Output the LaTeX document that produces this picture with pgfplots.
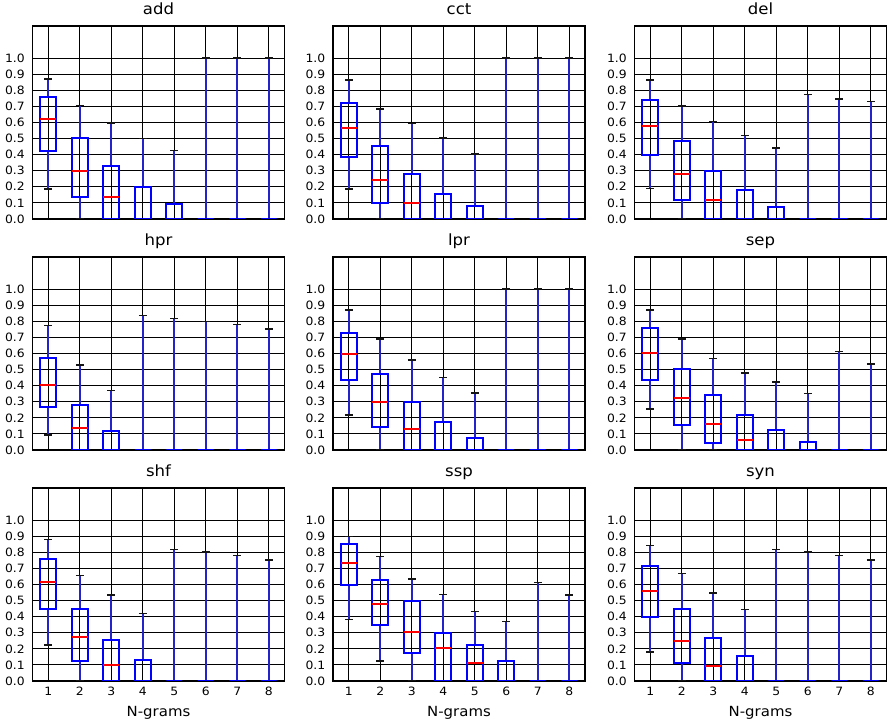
\documentclass[border=0pt]{standalone}
\usepackage{pgfplots}
\pgfplotsset{compat=1.18}
\usepgfplotslibrary{statistics}
\usepackage{fontspec}
\setmainfont{DejaVu Sans}[FakeStretch=1.07]
\newfontfamily\tickfam{DejaVu Sans}[FakeStretch=1.08]
\definecolor{boxblue}{rgb}{0,0,1}
\definecolor{wcol}{RGB}{35,35,200}
\definecolor{capc}{RGB}{20,20,20}
\pgfplotsset{
  boxplot/draw/box/.code={%
    \draw[boxblue, line width=2bp] (boxplot box cs:\pgfplotsboxplotvalue{lower quartile},0) rectangle (boxplot box cs:\pgfplotsboxplotvalue{upper quartile},1);},
  boxplot/draw/median/.code={%
    \draw[red, line width=2bp, /pgfplots/boxplot/every median/.try] (boxplot box cs:\pgfplotsboxplotvalue{median},0) -- (boxplot box cs:\pgfplotsboxplotvalue{median},1);},
  boxplot/draw/lower whisker/.code={%
    \draw[wcol, line width=1.7bp] (boxplot box cs:\pgfplotsboxplotvalue{lower quartile},0.5) -- (boxplot box cs:\pgfplotsboxplotvalue{lower whisker},0.5);
    \draw[capc, line width=1.5bp] (boxplot whisker cs:\pgfplotsboxplotvalue{lower whisker},0) -- (boxplot whisker cs:\pgfplotsboxplotvalue{lower whisker},1);},
  boxplot/draw/upper whisker/.code={%
    \draw[wcol, line width=1.7bp] (boxplot box cs:\pgfplotsboxplotvalue{upper quartile},0.5) -- (boxplot box cs:\pgfplotsboxplotvalue{upper whisker},0.5);
    \draw[capc, line width=1.5bp] (boxplot whisker cs:\pgfplotsboxplotvalue{upper whisker},0) -- (boxplot whisker cs:\pgfplotsboxplotvalue{upper whisker},1);},
  panel/.style={
    scale only axis, width=252bp, height=193bp, anchor=south west,
    xmin=0.5, xmax=8.5, ymin=0, ymax=1.2,
    xtick={1,2,3,4,5,6,7,8},
    ytick={0,0.1,0.2,0.3,0.4,0.5,0.6,0.7,0.8,0.9,1.0},
    /pgf/number format/assume math mode=true,
    yticklabel style={/pgf/number format/fixed, /pgf/number format/fixed zerofill, /pgf/number format/precision=1, font=\tickfam\fontsize{11.5}{13}\selectfont, inner sep=0pt, xshift=-7.5bp},
    xticklabel style={font=\tickfam\fontsize{11.5}{13}\selectfont, inner sep=0pt, yshift=-6bp},
    grid=major, major grid style={black, line width=0.9bp},
    tick align=inside, major tick length=4bp, tick style={black, line width=0.9bp},
    axis line style={black, line width=1.1bp},
    title style={font=\fontsize{15.5}{18}\selectfont, at={(0.5,1)}, anchor=base, yshift=5.5bp, inner sep=0pt},
  },
  bottompanel/.style={panel, xlabel={N-grams},
    xlabel style={at={(axis description cs:0.5,0)}, anchor=base, yshift=-35.7bp, inner sep=0pt, font=\fontsize{14}{16}\selectfont}},
  toppanel/.style={panel, xticklabels={}},
}
% a box whose median is 0 is drawn without the red median line, which the box edge hides
\newcommand{\bx}[6]{%
  \ifdim#4pt>0.0001pt
    \addplot[boxplot prepared={draw direction=y, draw position=#1, box extend=0.5, whisker extend=0.25, lower whisker=#2, lower quartile=#3, median=#4, upper quartile=#5, upper whisker=#6}] coordinates {};
  \else
    \addplot[boxplot prepared={draw direction=y, draw position=#1, box extend=0.5, whisker extend=0.25, lower whisker=#2, lower quartile=#3, median=#4, upper quartile=#5, upper whisker=#6, every median/.style={draw=none}}] coordinates {};
  \fi}
\begin{document}
\begin{tikzpicture}
\path[use as bounding box] (0,0) rectangle (889bp,720bp);
% ---------------- row 1
\begin{axis}[toppanel, at={(32.5bp,501bp)}, title={add}]
\bx{1}{0.185}{0.424}{0.620}{0.759}{0.869}
\bx{2}{0}{0.137}{0.301}{0.503}{0.707}
\bx{3}{0}{0}{0.137}{0.328}{0.597}
\bx{4}{0}{0}{0}{0.202}{0.501}
\bx{5}{0}{0}{0}{0.091}{0.426}
\bx{6}{0}{0}{0}{0}{1.0}
\bx{7}{0}{0}{0}{0}{1.0}
\bx{8}{0}{0}{0}{0}{1.0}
\end{axis}
\begin{axis}[toppanel, at={(333bp,501bp)}, title={cct}]
\bx{1}{0.187}{0.383}{0.568}{0.719}{0.865}
\bx{2}{0}{0.102}{0.243}{0.455}{0.684}
\bx{3}{0}{0}{0.102}{0.279}{0.593}
\bx{4}{0}{0}{0}{0.158}{0.503}
\bx{5}{0}{0}{0}{0.079}{0.405}
\bx{6}{0}{0}{0}{0}{1.0}
\bx{7}{0}{0}{0}{0}{1.0}
\bx{8}{0}{0}{0}{0}{1.0}
\end{axis}
\begin{axis}[toppanel, at={(634.5bp,501bp)}, title={del}]
\bx{1}{0.191}{0.395}{0.578}{0.740}{0.863}
\bx{2}{0}{0.119}{0.279}{0.484}{0.701}
\bx{3}{0}{0}{0.119}{0.301}{0.605}
\bx{4}{0}{0}{0}{0.183}{0.520}
\bx{5}{0}{0}{0}{0.075}{0.441}
\bx{6}{0}{0}{0}{0}{0.775}
\bx{7}{0}{0}{0}{0}{0.746}
\bx{8}{0}{0}{0}{0}{0.730}
\end{axis}
% ---------------- row 2
\begin{axis}[toppanel, at={(32.5bp,270bp)}, title={hpr}]
\bx{1}{0.092}{0.267}{0.406}{0.569}{0.775}
\bx{2}{0}{0}{0.135}{0.277}{0.527}
\bx{3}{0}{0}{0}{0.119}{0.369}
\bx{4}{0}{0}{0}{0}{0.835}
\bx{5}{0}{0}{0}{0}{0.819}
\bx{6}{0}{0}{0}{0}{0.800}
\bx{7}{0}{0}{0}{0}{0.779}
\bx{8}{0}{0}{0}{0}{0.752}
\end{axis}
\begin{axis}[toppanel, at={(333bp,270bp)}, title={lpr}]
\bx{1}{0.219}{0.4375}{0.594}{0.727}{0.869}
\bx{2}{0}{0.146}{0.298}{0.473}{0.690}
\bx{3}{0}{0}{0.129}{0.298}{0.558}
\bx{4}{0}{0}{0}{0.175}{0.450}
\bx{5}{0}{0}{0}{0.075}{0.354}
\bx{6}{0}{0}{0}{0}{1.0}
\bx{7}{0}{0}{0}{0}{1.0}
\bx{8}{0}{0}{0}{0}{1.0}
\end{axis}
\begin{axis}[toppanel, at={(634.5bp,270bp)}, title={sep}]
\bx{1}{0.254}{0.433}{0.602}{0.760}{0.869}
\bx{2}{0}{0.158}{0.325}{0.504}{0.690}
\bx{3}{0}{0.042}{0.160}{0.344}{0.569}
\bx{4}{0}{0}{0.060}{0.219}{0.479}
\bx{5}{0}{0}{0}{0.125}{0.423}
\bx{6}{0}{0}{0}{0.050}{0.350}
\bx{7}{0}{0}{0}{0}{0.6125}
\bx{8}{0}{0}{0}{0}{0.535}
\end{axis}
% ---------------- row 3
\begin{axis}[bottompanel, at={(32.5bp,39bp)}, title={shf}]
\bx{1}{0.225}{0.448}{0.6125}{0.758}{0.879}
\bx{2}{0}{0.125}{0.273}{0.446}{0.656}
\bx{3}{0}{0}{0.100}{0.252}{0.535}
\bx{4}{0}{0}{0}{0.133}{0.421}
\bx{5}{0}{0}{0}{0}{0.819}
\bx{6}{0}{0}{0}{0}{0.802}
\bx{7}{0}{0}{0}{0}{0.781}
\bx{8}{0}{0}{0}{0}{0.752}
\end{axis}
\begin{axis}[bottompanel, at={(333bp,39bp)}, title={ssp}]
\bx{1}{0.381}{0.598}{0.731}{0.850}{0.898}
\bx{2}{0.125}{0.346}{0.477}{0.631}{0.773}
\bx{3}{0}{0.175}{0.304}{0.498}{0.633}
\bx{4}{0}{0}{0.206}{0.300}{0.5375}
\bx{5}{0}{0}{0.1125}{0.225}{0.433}
\bx{6}{0}{0}{0}{0.125}{0.371}
\bx{7}{0}{0}{0}{0}{0.6125}
\bx{8}{0}{0}{0}{0}{0.535}
\end{axis}
\begin{axis}[bottompanel, at={(634.5bp,39bp)}, title={syn}]
\bx{1}{0.181}{0.400}{0.5625}{0.715}{0.842}
\bx{2}{0}{0.115}{0.250}{0.448}{0.669}
\bx{3}{0}{0}{0.094}{0.267}{0.548}
\bx{4}{0}{0}{0}{0.154}{0.446}
\bx{5}{0}{0}{0}{0}{0.819}
\bx{6}{0}{0}{0}{0}{0.802}
\bx{7}{0}{0}{0}{0}{0.781}
\bx{8}{0}{0}{0}{0}{0.752}
\end{axis}
\end{tikzpicture}
\end{document}
